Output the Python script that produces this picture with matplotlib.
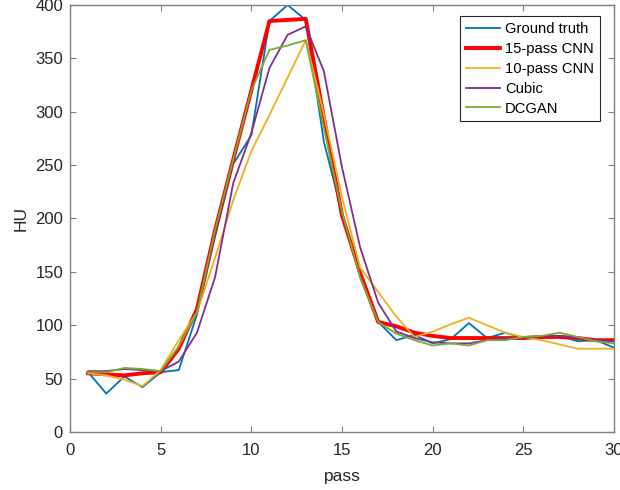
import matplotlib
matplotlib.use("Agg")
import matplotlib.pyplot as plt

plt.rcParams['font.family'] = ['Liberation Sans', 'DejaVu Sans']

passes = list(range(1, 31))
ground_truth = [56, 36, 52, 42, 56, 58, 110, 183, 251, 278, 385, 400, 386, 272, 205,
                145, 103, 86, 91, 83, 87, 102, 88, 93, 88, 89, 90, 85, 86, 79]
cnn15 = [55, 54, 53, 55, 56, 78, 115, 189, 255, 320, 385, 386, 387, 295, 203,
         149, 103, 99, 93, 90, 88, 88, 88, 88, 88, 89, 89, 88, 86, 86]
cnn10 = [55, 53, 49, 43, 58, 86, 112, 163, 217, 263, 297, 332, 367, 298, 220,
         154, 131, 108, 89, 94, 101, 107, 100, 93, 89, 86, 82, 78, 78, 78]
cubic = [57, 57, 59, 58, 57, 66, 93, 145, 233, 280, 341, 372, 380, 338, 248,
         173, 121, 94, 88, 84, 83, 83, 86, 88, 88, 90, 90, 88, 86, 85]
dcgan = [56, 56, 60, 59, 57, 80, 112, 189, 255, 320, 358, 362, 367, 285, 206,
         145, 103, 92, 86, 81, 83, 81, 86, 86, 89, 90, 93, 89, 85, 83]

fig = plt.figure(figsize=(6.2, 4.9), dpi=100)
ax = fig.add_axes([0.1129, 0.1184, 0.8774, 0.8714])

ax.plot(passes, ground_truth, color='#0072BD', lw=1.3, label='Ground truth')
ax.plot(passes, cnn15, color='#FF0000', lw=2.8, label='15-pass CNN')
ax.plot(passes, cnn10, color='#EDB120', lw=1.3, label='10-pass CNN')
ax.plot(passes, cubic, color='#7E2F8E', lw=1.3, label='Cubic')
ax.plot(passes, dcgan, color='#77AC30', lw=1.3, label='DCGAN')

ax.set_xlim(0, 30)
ax.set_ylim(0, 400)
ax.set_xticks(range(0, 31, 5))
ax.set_yticks(range(0, 401, 50))
ax.set_xlabel('pass', fontsize=12.5, color='#262626', labelpad=8)
ax.set_ylabel('HU', fontsize=12.5, color='#262626', labelpad=5)

for s in ax.spines.values():
    s.set_color('#808080')
    s.set_linewidth(1.0)
ax.tick_params(direction='in', length=4.5, width=0.8, color='#808080',
               labelsize=12, labelcolor='#262626',
               top=True, right=True)
ax.tick_params(axis='x', pad=8)
ax.tick_params(axis='y', pad=5)

leg = ax.legend(loc='upper right', bbox_to_anchor=(0.974, 0.974), borderaxespad=0,
                fontsize=10.6, fancybox=False, framealpha=1, handlelength=2.3,
                labelspacing=0.4, handletextpad=0.35, borderpad=0.4)
leg.get_frame().set_edgecolor('#262626')
leg.get_frame().set_linewidth(0.8)

fig.savefig('out.png', dpi=100)
